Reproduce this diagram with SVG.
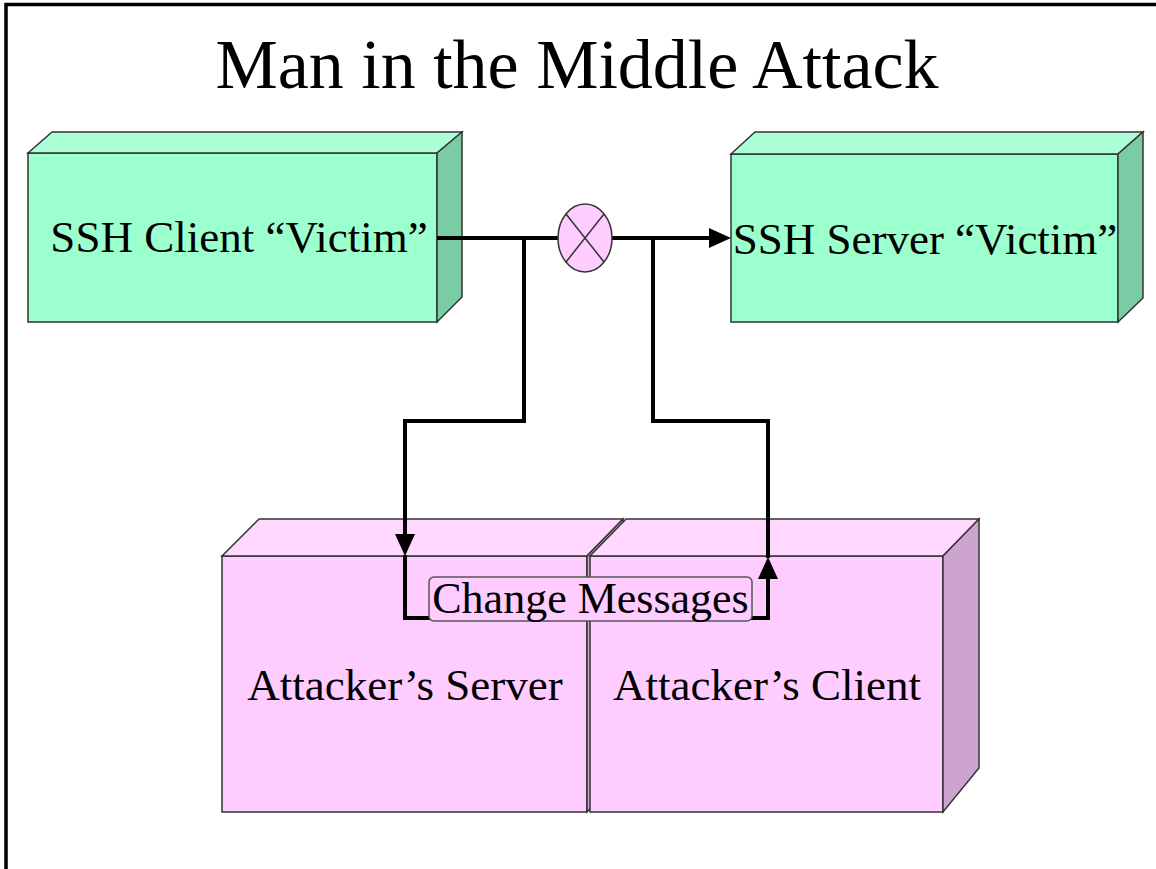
<svg xmlns="http://www.w3.org/2000/svg" width="1156" height="869" viewBox="0 0 1156 869">
<style>
text{font-family:"Liberation Serif","Times New Roman",serif;fill:#000}
.lbl{font-size:45px;text-anchor:middle}
.title{font-size:70px;text-anchor:middle}
.edge{stroke:#333;stroke-width:1.5;stroke-linejoin:miter}
.gF{fill:#9CFFCE}.gT{fill:#ADFFD7}.gR{fill:#7ACCA4}
.pF{fill:#FFCCFF}.pT{fill:#FFD7FF}.pR{fill:#CFA3CF}
.wire{fill:none;stroke:#000;stroke-width:4;stroke-linejoin:miter}
</style>
<defs>
<marker id="ah" markerUnits="userSpaceOnUse" markerWidth="22" markerHeight="20" refX="6" refY="10" orient="auto" viewBox="0 0 22 20">
<path d="M0,0 L22,10 L0,20 z" fill="#000"/>
</marker>
</defs>
<rect width="1156" height="869" fill="#fff"/>
<g id="frame" fill="none" stroke="#000" stroke-width="3.5">
<path d="M6,869 V4.5 H1156"/>
</g>
<g id="title"><text class="title" x="577" y="88">Man in the Middle Attack</text></g>

<g id="ssh-client">
<polygon class="gF edge" points="28,153 437,153 437,322 28,322"/>
<polygon class="gT edge" points="28,153 52,132 462,132 437,153"/>
<polygon class="gR edge" points="437,153 462,132 462,297 437,322"/>
<text class="lbl" x="239" y="252">SSH Client “Victim”</text>
</g>

<g id="ssh-server">
<polygon class="gF edge" points="731,154 1118,154 1118,322 731,322"/>
<polygon class="gT edge" points="731,154 755,132 1143,132 1118,154"/>
<polygon class="gR edge" points="1118,154 1143,132 1143,298 1118,322"/>
<text class="lbl" x="925" y="254">SSH Server “Victim”</text>
</g>

<g id="attacker-server">
<polygon class="pF edge" points="222,556 587,556 587,812 222,812"/>
<polygon class="pT edge" points="222,556 259,519 623,519 587,556"/>
<polygon class="pR edge" points="587,556 623,519 623,775 587,812"/>
<text class="lbl" x="405" y="700">Attacker’s Server</text>
</g>

<g id="attacker-client">
<polygon class="pF edge" points="590,556 943,556 943,812 590,812"/>
<polygon class="pT edge" points="590,556 626,519 979,519 943,556"/>
<polygon class="pR edge" points="943,556 979,519 979,768 943,812"/>
<text class="lbl" x="767" y="700">Attacker’s Client</text>
</g>

<g id="connectors">
<path class="wire" d="M437,238 H560" stroke-width="5.5"/>
<path class="wire" d="M610,238 H715" stroke-width="3.5" marker-end="url(#ah)"/>
<path class="wire" d="M524,238 V421 H405 V540" marker-end="url(#ah)"/>
<path class="wire" d="M405,555 V618 H431"/>
<path class="wire" d="M750,618 H768 V573" marker-end="url(#ah)"/>
<path class="wire" d="M768,558 V421 H653 V238"/>
</g>

<g id="interceptor">
<ellipse cx="585" cy="238" rx="27" ry="34" fill="#FFCCFF" stroke="#333" stroke-width="1.5"/>
<path d="M566,214 L604,262 M604,214 L566,262" stroke="#333" stroke-width="1.5"/>
</g>

<g id="change-messages">
<rect x="429" y="577" width="323" height="44" rx="5" fill="#FFCCFF" stroke="#555" stroke-width="1.5"/>
<text x="590.5" y="613" style="font-size:44px;text-anchor:middle">Change Messages</text>
</g>
</svg>
